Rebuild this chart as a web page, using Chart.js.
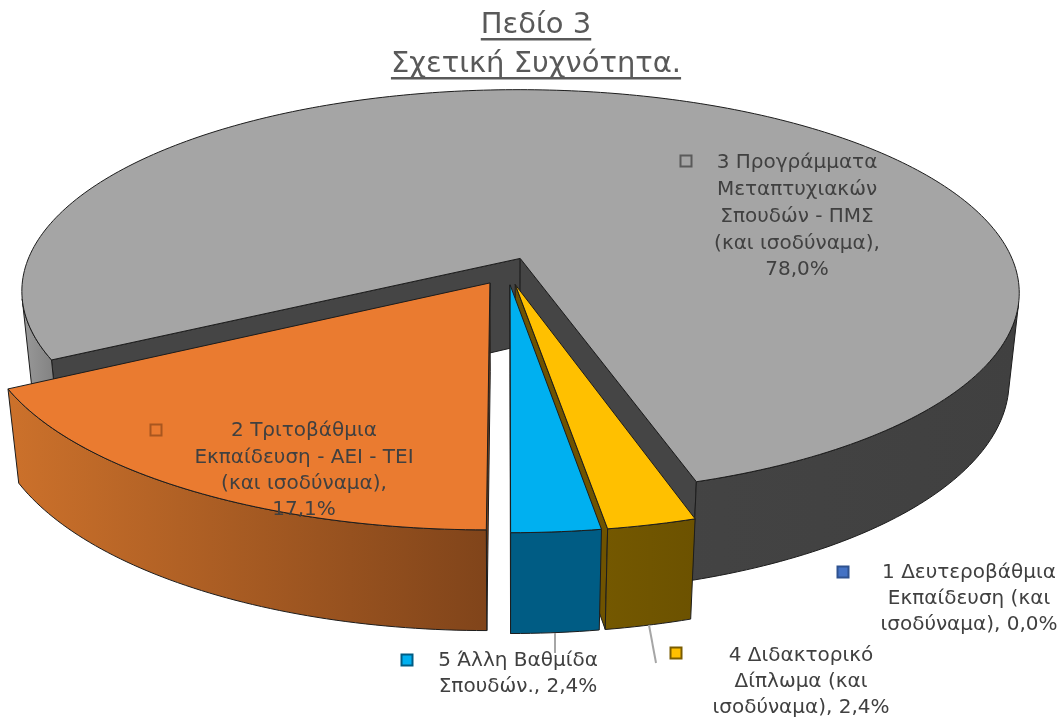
<!DOCTYPE html>
<html><head><meta charset="utf-8">
<style>html,body{margin:0;padding:0;background:#fff}canvas{display:block}</style>
<script src="https://cdn.jsdelivr.net/npm/chart.js@4"></script>
</head><body><canvas id="c" width="1064" height="719"></canvas>
<script>
const categories = ['1 Δευτεροβάθμια Εκπαίδευση (και ισοδύναμα)','2 Τριτοβάθμια Εκπαίδευση - ΑΕΙ - ΤΕΙ (και ισοδύναμα)','3 Προγράμματα Μεταπτυχιακών Σπουδών - ΠΜΣ (και ισοδύναμα)','4 Διδακτορικό Δίπλωμα (και ισοδύναμα)','5 Άλλη Βαθμίδα Σπουδών.'];
const values = [0, 17.1, 78.0, 2.4, 2.4];
const titleLines = ['Πεδίο 3', 'Σχετική Συχνότητα.'];
const sliceColors = ['#4472c4','#ea7b30','#a5a5a5','#ffc000','#00b0f0'];
const keyBorders = ['#2f528f','#a8561f','#5a5a5a','#7a5c00','#005c84'];
const wallColors = ['#2f528f','#84461a','#454545','#6f5300','#005c84'];
const rimStops = [
  [[0,'#2f528f'],[1,'#2f528f']],
  [[0,'#cc712b'],[1,'#80441a']],
  [[0,'#9a9a9a'],[0.035,'#808080'],[0.6,'#444444'],[1,'#404040']],
  [[0,'#7c5e00'],[1,'#6c5200']],
  [[0,'#005c84'],[1,'#005c84']]
];
const drawOrder = [2,3,1,4];
const explosion = [0,34,34,34,34];

// perspective of the tilted pie
const P = {cx:507.5, cy:271, R:497, k:201, p:0.168, q:0.02, h:90};
function project(u,v,bottom){
  const s = 1/(1+P.p*v+(bottom?P.q:0));
  return {x:P.cx+P.R*u*s, y:P.cy+(-P.k*v+(bottom?P.h:0))*s};
}
function fmt(i){ return values[i].toFixed(1).replace('.',',')+'%'; }
const labels = [
  {i:2, x:797, y:163, dy:26.8, key:[686,161], lines:['3 Προγράμματα','Μεταπτυχιακών','Σπουδών - ΠΜΣ','(και ισοδύναμα),',fmt(2)]},
  {i:1, x:304, y:431, dy:26.3, key:[156,430], lines:['2 Τριτοβάθμια','Εκπαίδευση - ΑΕΙ - ΤΕΙ','(και ισοδύναμα),',fmt(1)]},
  {i:0, x:969, y:573, dy:26, key:[843,572], lines:['1 Δευτεροβάθμια','Εκπαίδευση (και','ισοδύναμα), '+fmt(0)]},
  {i:3, x:801, y:656, dy:26, key:[676,653], lines:['4 Διδακτορικό','Δίπλωμα (και','ισοδύναμα), '+fmt(3)]},
  {i:4, x:518, y:661, dy:26, key:[407,660], lines:['5 Άλλη Βαθμίδα','Σπουδών., '+fmt(4)]}
];
const leaders = [[555,633,555,653],[649,625,656,663]];

function sliceOutline(arc,off){
  const t0 = arc.startAngle+Math.PI/2, t1 = arc.endAngle+Math.PI/2;
  const mid=(t0+t1)/2, d=off/P.R;
  const u0=d*Math.sin(mid), v0=d*Math.cos(mid);
  const pts=[{u:u0,v:v0}];
  const n=Math.max(2,Math.ceil((t1-t0)/(Math.PI/180)));
  for(let j=0;j<=n;j++){ const t=t0+(t1-t0)*j/n; pts.push({u:u0+Math.sin(t),v:v0+Math.cos(t)}); }
  return pts;
}
function poly(ctx,pts){ ctx.beginPath(); pts.forEach((q,j)=> j?ctx.lineTo(q.x,q.y):ctx.moveTo(q.x,q.y)); ctx.closePath(); }
function area(a,b,c,d){ const l=[a,b,c,d]; let s=0; for(let j=0;j<4;j++){const m=l[j],o=l[(j+1)%4]; s+=m.x*o.y-o.x*m.y;} return s; }

const pie3d = {
  id:'pie3d',
  beforeDatasetsDraw(chart){
    const ctx=chart.ctx, meta=chart.getDatasetMeta(0);
    ctx.save(); ctx.lineJoin='round'; ctx.lineWidth=1; ctx.strokeStyle='#1c1c1c';
    for(const i of drawOrder){
      const arc=meta.data[i];
      if(!values[i]) continue;
      const pts=sliceOutline(arc,arc.options.offset);
      const top=pts.map(q=>project(q.u,q.v,false)), bot=pts.map(q=>project(q.u,q.v,true));
      const N=pts.length;
      const xs=top.map(q=>q.x), minX=Math.min(...xs), maxX=Math.max(...xs);
      [[0,1],[N-1,0]].forEach(([a,b])=>{
        if(area(top[a],top[b],bot[b],bot[a])<0){
          ctx.fillStyle=wallColors[i]; poly(ctx,[top[a],top[b],bot[b],bot[a]]); ctx.fill(); ctx.stroke();
        }
      });
      const grad=ctx.createLinearGradient(minX,0,maxX,0);
      rimStops[i].forEach(s=>grad.addColorStop(s[0],s[1]));
      let run=[];
      const flush=()=>{ if(run.length>1){
        const a=run.map(j=>top[j]), b=run.map(j=>bot[j]).reverse();
        ctx.fillStyle=grad; poly(ctx,a.concat(b)); ctx.fill(); ctx.stroke(); } run=[]; };
      for(let j=1;j<N-1;j++){
        if(area(top[j],top[j+1],bot[j+1],bot[j])<0){ if(!run.length) run.push(j); run.push(j+1); }
        else flush();
      }
      flush();
      ctx.fillStyle=arc.options.backgroundColor; poly(ctx,top); ctx.fill(); ctx.stroke();
    }
    ctx.restore();
    return false;
  },
  afterDraw(chart){
    const ctx=chart.ctx; ctx.save();
    ctx.font=chart.options.plugins.title.font.size+'px "DejaVu Sans"';
    ctx.fillStyle='#595959';
    [[titleLines[0],38],[titleLines[1],77]].forEach(([t,y])=>{
      const w=ctx.measureText(t).width; ctx.fillRect(536-w/2,y,w,2.5);
    });
    ctx.strokeStyle='#a6a6a6'; ctx.lineWidth=2;
    leaders.forEach(l=>{ctx.beginPath();ctx.moveTo(l[0],l[1]);ctx.lineTo(l[2],l[3]);ctx.stroke();});
    ctx.font='20px "DejaVu Sans"'; ctx.textAlign='center'; ctx.textBaseline='middle'; ctx.fillStyle='#404040';
    labels.forEach(L=>{
      L.lines.forEach((t,j)=>ctx.fillText(t,L.x,L.y+j*L.dy));
      ctx.fillStyle=sliceColors[L.i]; ctx.fillRect(L.key[0]-6,L.key[1]-6,12,12);
      ctx.strokeStyle=keyBorders[L.i]; ctx.lineWidth=2; ctx.strokeRect(L.key[0]-5.5,L.key[1]-5.5,11,11);
      ctx.fillStyle='#404040';
    });
    ctx.restore();
  }
};

new Chart(document.getElementById('c'),{
  type:'pie',
  data:{labels:categories,datasets:[{data:values,backgroundColor:sliceColors,offset:explosion,borderWidth:0}]},
  options:{
    responsive:false,animation:false,rotation:180,
    layout:{padding:{left:8}},
    plugins:{
      legend:{display:false},tooltip:{enabled:false},
      title:{display:true,text:titleLines,color:'#595959',align:'center',position:'top',
        font:{family:'"DejaVu Sans"',size:29,weight:'normal',lineHeight:1.345},padding:{top:6,bottom:0}}
    }
  },
  plugins:[pie3d]
});
</script></body></html>
